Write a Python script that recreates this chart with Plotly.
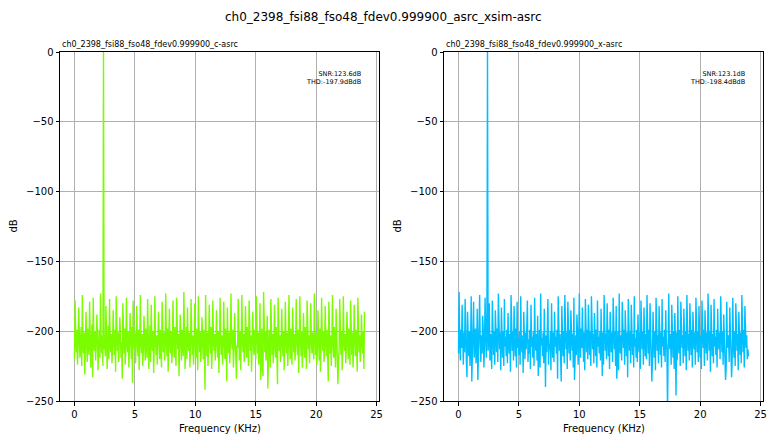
import numpy as np
import plotly.graph_objects as go

W, H = 767, 437

main_title = "ch0_2398_fsi88_fso48_fdev0.999900_asrc_xsim-asrc"
titles = ["ch0_2398_fsi88_fso48_fdev0.999900_c-asrc", "ch0_2398_fsi88_fso48_fdev0.999900_x-asrc"]
snr_text = ["SNR:123.6dB", "SNR:123.1dB"]
thd_text = ["THD:-197.9dBdB", "THD:-198.4dBdB"]
colors = ["#7CFC00", "#00BFFF"]
bin_khz = 0.05
y_ticks = [0, -50, -100, -150, -200, -250]
x_ticks = [0, 5, 10, 15, 20, 25]

c_asrc_db = [
    -220, -178, -206, -215, -199, -224, -210, -183, -202, -219, -207, -197,
    -225, -174, -209, -216, -201, -231, -212, -186, -204, -222, -198, -211,
    -217, -179, -203, -226, -208, -195, -233, -176, -206, -214, -200, -221,
    -209, -188, -202, -228, -212, -199, -219, -173, -207, -216, -203, -225,
    0, -213, -205, -218, -182, -200, -227, -210, -196, -220, -177, -208,
    -215, -202, -223, -211, -185, -204, -217, -199, -229, -175, -206, -214,
    -201, -222, -210, -190, -203, -219, -208, -234, -180, -205, -216, -198,
    -224, -212, -176, -207, -215, -200, -226, -209, -187, -203, -220, -197,
    -237, -178, -206, -213, -201, -223, -211, -182, -204, -218, -199, -228,
    -210, -174, -208, -216, -202, -225, -213, -189, -205, -221, -198, -212,
    -219, -177, -203, -227, -209, -196, -222, -181, -207, -214, -200, -230,
    -211, -175, -204, -217, -203, -224, -208, -186, -202, -220, -199, -213,
    -226, -179, -206, -215, -201, -221, -210, -173, -205, -218, -198, -229,
    -212, -184, -207, -216, -200, -223, -214, -178, -203, -219, -197, -211,
    -225, -176, -205, -213, -202, -232, -209, -188, -206, -221, -199, -215,
    -218, -172, -204, -227, -208, -197, -220, -183, -207, -214, -201, -226,
    -211, -177, -203, -217, -203, -224, -212, -180, -205, -219, -198, -210,
    -228, -175, -208, -215, -200, -222, -213, -190, -204, -220, -199, -212,
    -242, -174, -206, -218, -201, -225, -209, -181, -203, -216, -197, -227,
    -213, -178, -207, -214, -202, -221, -210, -185, -205, -219, -200, -230,
    -212, -176, -204, -217, -203, -224, -211, -179, -206, -220, -198, -209,
    -236, -183, -205, -216, -201, -223, -208, -173, -207, -213, -199, -226,
    -214, -187, -203, -218, -234, -210, -212, -177, -204, -221, -200, -228,
    -209, -174, -206, -215, -202, -222, -213, -182, -205, -219, -197, -211,
    -225, -178, -207, -214, -203, -229, -210, -186, -204, -217, -199, -213,
    -220, -175, -205, -216, -201, -224, -212, -180, -235, -218, -198, -227,
    -232, -172, -208, -215, -200, -221, -209, -189, -241, -220, -199, -214,
    -226, -177, -204, -217, -202, -223, -213, -181, -207, -219, -197, -210,
    -238, -176, -206, -214, -203, -222, -211, -184, -205, -218, -200, -228,
    -212, -179, -207, -216, -201, -225, -210, -174, -204, -220, -198, -213,
    -224, -183, -205, -215, -202, -221, -209, -177, -206, -217, -199, -230,
    -211, -175, -203, -218, -200, -226, -214, -187, -207, -219, -197, -212,
    -227, -178, -206, -213, -203, -223, -210, -180, -204, -216, -201, -209,
    -220, -173, -208, -217, -202, -224, -212, -185, -205, -221, -198, -229,
    -213, -176, -204, -214, -200, -222, -211, -182, -207, -218, -199, -215,
    -236, -179, -205, -216, -203, -225, -209, -174, -206, -219, -197, -211,
    -226, -184, -203, -215, -238, -221, -213, -177, -204, -217, -200, -228,
    -212, -175, -207, -214, -202, -223, -210, -186, -205, -220, -198, -213,
    -224, -178, -206, -217, -201, -226, -211, -181, -203, -218, -199, -210,
    -229, -176, -204, -215, -203, -222, -212, -188, -207, -216, -200, -227,
    -186,
]

x_asrc_db = [
    -216, -172, -204, -221, -199, -212, -181, -207, -224, -201, -215, -177,
    -209, -220, -233, -186, -203, -218, -200, -225, -211, -175, -236, -214,
    -202, -179, -219, -208, -198, -223, -213, -184, -235, -217, -201, -174,
    -210, -222, -203, -216, -189, -200, -226, -211, -176, -207, -219, -199,
    0, -214, -205, -180, -221, -202, -212, -227, -178, -204, -217, -200,
    -224, -185, -209, -215, -198, -222, -173, -206, -213, -201, -228, -183,
    -208, -219, -200, -225, -177, -211, -204, -218, -199, -223, -187, -207,
    -216, -202, -229, -174, -210, -214, -200, -221, -182, -206, -218, -198,
    -226, -179, -212, -205, -217, -200, -224, -175, -208, -215, -203, -230,
    -186, -209, -220, -201, -213, -198, -178, -222, -206, -216, -199, -227,
    -181, -211, -204, -219, -200, -225, -176, -207, -214, -202, -221, -189,
    -232, -217, -199, -226, -173, -210, -205, -218, -201, -223, -184, -208,
    -240, -203, -215, -198, -177, -224, -209, -213, -200, -228, -180, -206,
    -219, -201, -222, -186, -211, -204, -216, -199, -234, -175, -207, -214,
    -202, -225, -236, -182, -210, -218, -200, -223, -174, -206, -213, -201,
    -227, -179, -209, -216, -199, -221, -185, -205, -214, -202, -226, -176,
    -235, -220, -203, -217, -188, -200, -224, -211, -173, -207, -219, -198,
    -212, -183, -204, -222, -201, -228, -177, -210, -215, -199, -220, -181,
    -206, -217, -200, -225, -175, -209, -213, -202, -223, -187, -205, -218,
    -199, -226, -178, -211, -204, -216, -200, -221, -184, -208, -232, -201,
    -224, -174, -207, -214, -202, -220, -180, -206, -218, -199, -227, -186,
    -210, -215, -201, -222, -176, -205, -213, -200, -225, -182, -234, -217,
    -200, -228, -173, -209, -216, -203, -221, -179, -207, -212, -199, -224,
    -185, -206, -218, -201, -233, -177, -210, -214, -200, -223, -181, -208,
    -217, -202, -226, -175, -211, -205, -219, -199, -222, -188, -204, -215,
    -201, -227, -178, -209, -213, -200, -224, -183, -206, -218, -202, -220,
    -174, -210, -216, -199, -225, -180, -207, -212, -236, -221, -186, -205,
    -219, -200, -228, -176, -208, -214, -203, -223, -182, -206, -217, -201,
    -226, -177, -211, -204, -218, -199, -222, -185, -207, -215, -256, -220,
    -173, -209, -213, -202, -224, -181, -206, -219, -200, -227, -187, -205,
    -246, -201, -221, -175, -210, -216, -199, -225, -179, -208, -212, -203,
    -223, -184, -206, -218, -200, -228, -174, -209, -214, -202, -221, -180,
    -207, -217, -199, -226, -186, -205, -213, -201, -224, -176, -210, -215,
    -200, -222, -182, -208, -219, -203, -227, -178, -206, -212, -199, -225,
    -185, -209, -216, -201, -221, -173, -207, -214, -200, -229, -181, -205,
    -218, -202, -223, -177, -211, -204, -217, -199, -226, -184, -206, -213,
    -201, -220, -175, -209, -215, -200, -224, -188, -205, -218, -235, -227,
    -179, -210, -212, -203, -222, -183, -207, -216, -233, -221, -176, -208,
    -219, -200, -225, -180, -206, -214, -202, -228, -186, -209, -217, -201,
    -223, -174, -208, -215, -199, -226, -182, -205, -212, -203, -220, -213,
    -218,
]

series = [c_asrc_db, x_asrc_db]

# layout in pixels
plot_left = [60, 444]
plot_right = [379, 763]
plot_top, plot_bottom = 52, 401

fig = go.Figure()
for k, vals in enumerate(series):
    freq = np.arange(len(vals)) * bin_khz
    xa = "x" if k == 0 else "x2"
    ya = "y" if k == 0 else "y2"
    fig.add_trace(go.Scatter(x=freq, y=vals, mode="lines",
                             line=dict(color=colors[k], width=1.4),
                             xaxis=xa, yaxis=ya, showlegend=False, hoverinfo="skip"))

axis_common = dict(showline=True, linecolor="black", linewidth=1, mirror=True,
                   ticks="outside", ticklen=3.5, tickwidth=0.8, tickcolor="black",
                   showgrid=True, gridcolor="#b0b0b0", gridwidth=0.8, zeroline=False,
                   automargin=False,
                   tickfont=dict(family="DejaVu Sans", size=10, color="black"))

ydom = [1 - plot_bottom / H, 1 - plot_top / H]
ytext = [str(v).replace("-", "\u2212") for v in y_ticks]
for k in range(2):
    suffix = "" if k == 0 else "2"
    xdom = [plot_left[k] / W, plot_right[k] / W]
    fig.update_layout(**{
        "xaxis" + suffix: dict(domain=xdom, range=[-1.2, 25.2], tickvals=x_ticks,
                               ticktext=[str(v) for v in x_ticks], anchor="y" + suffix,
                               **axis_common),
        "yaxis" + suffix: dict(domain=ydom, range=[-250, 0], tickvals=y_ticks,
                               ticktext=ytext, anchor="x" + suffix, **axis_common),
    })

annotations = []
annotations.append(dict(text=main_title, x=0.5, y=1 - 17 / H, xref="paper", yref="paper",
                        showarrow=False, xanchor="center", yanchor="middle",
                        font=dict(family="DejaVu Sans", size=12, color="black")))
for k in range(2):
    suffix = "" if k == 0 else "2"
    annotations.append(dict(text=titles[k], x=plot_left[k] / W, y=1 - 44 / H,
                            xref="paper", yref="paper", showarrow=False,
                            xanchor="left", yanchor="middle",
                            font=dict(family="DejaVu Sans", size=8, color="black")))
    annotations.append(dict(text=snr_text[k] + "<br>" + thd_text[k],
                            x=0.95, y=0.955, xref="x" + suffix + " domain",
                            yref="y" + suffix + " domain", showarrow=False,
                            xanchor="right", yanchor="top", align="right",
                            font=dict(family="DejaVu Sans", size=6.5, color="black")))
    annotations.append(dict(text="dB", x=(plot_left[k] - 47) / W, y=(ydom[0] + ydom[1]) / 2,
                            xref="paper", yref="paper", showarrow=False, textangle=-90,
                            xanchor="center", yanchor="middle",
                            font=dict(family="DejaVu Sans", size=10, color="black")))
    annotations.append(dict(text="Frequency (KHz)", x=(plot_left[k] + plot_right[k]) / 2 / W,
                            y=1 - 428 / H, xref="paper", yref="paper", showarrow=False,
                            xanchor="center", yanchor="middle",
                            font=dict(family="DejaVu Sans", size=10, color="black")))

fig.update_layout(width=W, height=H, margin=dict(l=0, r=0, t=0, b=0),
                  paper_bgcolor="white", plot_bgcolor="white", annotations=annotations)

fig.write_html("out.html", config={"displayModeBar": False},
               post_script="document.body.style.margin='0';document.body.style.overflow='hidden';")
